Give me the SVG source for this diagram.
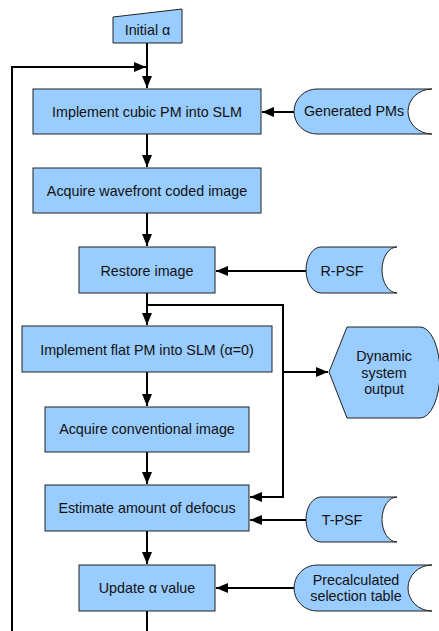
<svg xmlns="http://www.w3.org/2000/svg" width="439" height="631" viewBox="0 0 439 631">
<defs>
<marker id="ah" markerWidth="12" markerHeight="10" refX="12" refY="5" orient="auto" markerUnits="userSpaceOnUse">
<path d="M0,0 L12,5 L0,10 Z" fill="#000"/>
</marker>
<style>
.n{fill:#99ccff;stroke:#222;stroke-width:1}
.t{font-family:"Liberation Sans",Arial,sans-serif;font-size:14.3px;fill:#111;text-anchor:middle;dominant-baseline:central}
.c{fill:none;stroke:#000;stroke-width:2}
</style>
</defs>
<rect width="439" height="631" fill="#fff"/>
<g id="connectors">
<path class="c" d="M147,43 V88" marker-end="url(#ah)"/>
<path class="c" d="M12,631 V67 H146" marker-end="url(#ah)"/>
<path class="c" d="M294,112 H262" marker-end="url(#ah)"/>
<path class="c" d="M147,134 V167" marker-end="url(#ah)"/>
<path class="c" d="M147,213 V246" marker-end="url(#ah)"/>
<path class="c" d="M306,271 H216" marker-end="url(#ah)"/>
<path class="c" d="M147,293 V325" marker-end="url(#ah)"/>
<path class="c" d="M147,305 H283 V497 H250" marker-end="url(#ah)"/>
<path class="c" d="M283,372 H328" marker-end="url(#ah)"/>
<path class="c" d="M147,372 V406" marker-end="url(#ah)"/>
<path class="c" d="M147,452 V484" marker-end="url(#ah)"/>
<path class="c" d="M306,520 H250" marker-end="url(#ah)"/>
<path class="c" d="M147,531 V564" marker-end="url(#ah)"/>
<path class="c" d="M294,588 H216" marker-end="url(#ah)"/>
<path class="c" d="M147,611 V631"/>
</g>
<g id="initial">
<polygon class="n" points="113,17 182,9 182,43 113,43"/>
<text class="t" x="147.5" y="30">Initial α</text>
</g>
<g id="implement-cubic">
<rect class="n" x="33" y="89" width="228" height="45"/>
<text class="t" x="147" y="112">Implement cubic PM into SLM</text>
</g>
<g id="generated-pms">
<path class="n" d="M317,89 H432 A24,22.5 0 0 0 432,134 H317 A23,22.5 0 0 1 317,89 Z"/>
<text class="t" x="354" y="111">Generated PMs</text>
</g>
<g id="acquire-wavefront">
<rect class="n" x="33" y="168" width="228" height="45"/>
<text class="t" x="147" y="191">Acquire wavefront coded image</text>
</g>
<g id="restore">
<rect class="n" x="79" y="247" width="136" height="46"/>
<text class="t" x="147" y="271">Restore image</text>
</g>
<g id="r-psf">
<path class="n" d="M321,247 H397 A15,23 0 0 0 397,293 H321 A15,23 0 0 1 321,247 Z"/>
<text class="t" x="342" y="271">R-PSF</text>
</g>
<g id="implement-flat">
<rect class="n" x="22" y="326" width="250" height="46"/>
<text class="t" x="147" y="350">Implement flat PM into SLM (α=0)</text>
</g>
<g id="dynamic-output">
<path class="n" d="M347,327 H420 A20,45.5 0 0 1 420,418 H347 L329,372 Z"/>
<text class="t" x="384" y="356">Dynamic</text>
<text class="t" x="384" y="373">system</text>
<text class="t" x="384" y="389">output</text>
</g>
<g id="acquire-conventional">
<rect class="n" x="45" y="407" width="204" height="45"/>
<text class="t" x="147" y="429">Acquire conventional image</text>
</g>
<g id="estimate">
<rect class="n" x="45" y="485" width="204" height="46"/>
<text class="t" x="147" y="508">Estimate amount of defocus</text>
</g>
<g id="t-psf">
<path class="n" d="M321,497 H397 A15,22.5 0 0 0 397,542 H321 A15,22.5 0 0 1 321,497 Z"/>
<text class="t" x="342" y="520">T-PSF</text>
</g>
<g id="update">
<rect class="n" x="79" y="565" width="136" height="46"/>
<text class="t" x="147" y="588">Update α value</text>
</g>
<g id="precalculated">
<path class="n" d="M317,565 H432 A24,23 0 0 0 432,611 H317 A23,23 0 0 1 317,565 Z"/>
<text class="t" x="356" y="580">Precalculated</text>
<text class="t" x="356" y="596">selection table</text>
</g>
</svg>
